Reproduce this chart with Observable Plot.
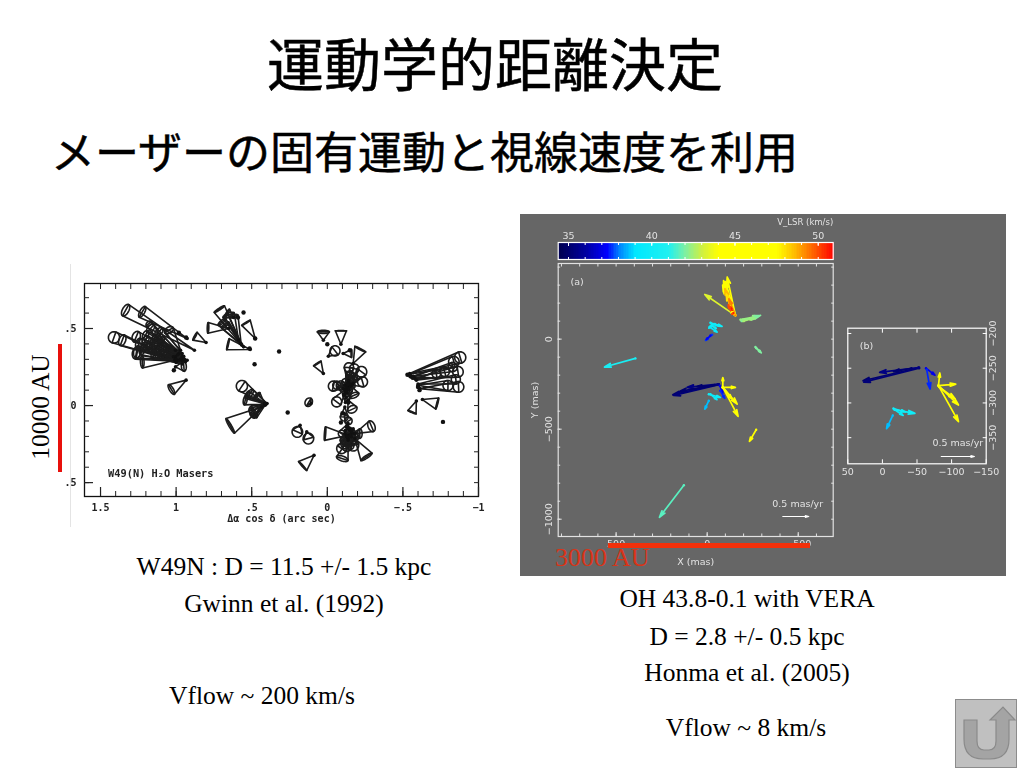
<!DOCTYPE html>
<html lang="ja"><head><meta charset="utf-8">
<script src="https://cdn.jsdelivr.net/npm/d3@7"></script>
<script src="https://cdn.jsdelivr.net/npm/@observablehq/plot@0.6"></script>
<style>
html,body{margin:0;padding:0;background:#fff}
#slide{position:relative;width:1024px;height:768px;overflow:hidden;background:#fff}
.t{position:absolute;white-space:nowrap;color:#000;line-height:1}
.jp{font-family:"Noto Sans CJK JP";font-weight:400;-webkit-text-stroke:.5px #000}
.s{font-family:"Liberation Serif";font-size:25.5px;transform:translate(-50%,-50%)}
.abs{position:absolute}
.abs svg{display:block;overflow:visible}
</style></head><body><div id="slide"></div>
<script>
// ---------- text ----------
const title = "運動学的距離決定";
const subtitle = "メーザーの固有運動と視線速度を利用";
const captions = [
  ["W49N : D = 11.5 +/- 1.5 kpc", 284, 567],
  ["Gwinn et al. (1992)", 284, 604],
  ["Vflow ~ 200 km/s", 262, 696],
  ["OH 43.8-0.1 with VERA", 747, 599],
  ["D = 2.8 +/- 0.5 kpc", 747, 637],
  ["Honma et al. (2005)", 747, 673],
  ["Vflow ~ 8 km/s", 746, 728]
];
// ---------- W49(N) masers: [x, y, endX, endY, radius, squash] in arc sec ----------
const westCluster = [
 [.879,.359,1.334,.619,.042,.5],[.927,.435,1.224,.608,.04,.4],[1.004,.294,1.411,.442,.037,1],
 [.993,.284,1.356,.424,.037,.6],[.96,.316,1.264,.446,.037,.7],[.96,.294,1.257,.348,.04,.6],
 [.938,.284,1.264,.338,.037,.7],[1.009,.294,1.224,.284,.04,.3],[1.004,.251,.949,.255,.033,.5],
 [.982,.338,1.169,.5,.033,.6],[.971,.359,1.048,.489,.033,.6],[.96,.338,1.114,.478,.033,.6],
 [.938,.294,1.202,.424,.033,.6],[.982,.294,1.18,.381,.026,.6],[1.004,.316,1.213,.381,.031,.6],
 [1.018,.316,1.18,.532,.022,.6],[.927,.294,1.158,.413,.026,.6],[1.004,.359,1.202,.457,.031,.6],
 [.949,.305,1.246,.403,.035,.6],[1.0,.28,1.224,.36,.031,.6],[.934,.165,1.031,.104,.037,.35],
 [.802,.409,.875,.45,.029,.15],[.97,.3,1.13,.36,.03,.6],[.95,.32,1.1,.42,.03,.6],[.99,.33,1.14,.44,.028,.6],
 [.96,.27,1.1,.33,.03,.6],[1.0,.3,1.15,.33,.03,.5]
];
const northCluster = [
 [.565,.392,.714,.626,.04,.15],[.653,.5,.789,.504,.035,.15],[.587,.424,.653,.587,.04,.3],
 [.576,.403,.697,.543,.033,.3],[.554,.381,.675,.522,.031,.3],[.51,.364,.657,.398,.037,.1],
 [.477,.435,.538,.537,.033,.1],[.62,.571,.664,.597,.033,.2],[.57,.4,.62,.58,.03,.3]
];
const middleCluster = [
 [.4,.013,.565,.126,.037,1],[.4,.013,.51,.078,.031,.5],[.411,.009,.543,.035,.031,.4],
 [.407,.009,.488,-.03,.031,1],[.407,.009,.488,-.048,.037,.5],[.411,.002,.466,.067,.026,.3],
 [.433,-.009,.642,-.132,.055,.15],[.415,.013,.495,-.064,.022,.5],[.41,.01,.53,.07,.026,.4]
];
const centreCluster = [
 [.026,.424,.026,.478,.04,.25],[-.09,.398,-.09,.485,.037,.03],[-.007,.32,-.051,.355,.033,1],
 [.026,.208,.066,.273,.029,.1],[-.105,.338,-.16,.338,.026,.1],[-.171,.273,-.218,.366,.04,.1],
 [-.138,.132,-.143,.247,.031,1],[-.149,.121,-.178,.24,.031,1],[-.171,.143,-.226,.219,.035,1],
 [-.16,.132,-.233,.154,.033,1],[-.105,.11,-.04,.126,.033,1],[-.116,.132,-.062,.132,.026,1],
 [-.127,.11,-.062,.024,.033,1],[-.149,.132,-.178,.067,.033,.5],[-.138,.035,-.165,-.024,.033,.7],
 [-.116,-.009,-.112,-.074,.026,1],[-.13,.12,-.17,.18,.03,1],[-.12,.09,-.15,.16,.028,1],
 [-.125,.05,-.14,.1,.026,1],[-.14,.16,-.15,.2,.026,1],[-.13,.13,-.15,.19,.028,1],[-.15,.14,-.17,.17,.026,1],
 [-.13,.08,-.12,.15,.025,1],[-.14,.1,-.16,.13,.024,1],[-.11,.07,-.09,.13,.03,1],[-.12,.02,-.13,.06,.026,1],
 [-.182,-.182,-.292,-.134,.037,.6],[-.138,-.193,.015,-.182,.044,.1],[-.182,-.214,-.259,-.333,.044,.2],
 [-.138,-.225,-.099,-.344,.04,.4],[-.138,-.214,-.095,-.279,.033,1],[-.16,-.203,-.171,-.258,.037,1],
 [-.16,-.182,-.215,-.182,.031,.5],[-.138,-.139,-.138,-.204,.031,1],[-.116,-.182,-.116,-.225,.031,1],
 [-.171,-.15,-.182,-.204,.026,1],[-.127,-.139,-.16,-.236,.026,1],[-.138,-.117,-.095,-.182,.022,1],
 [-.15,-.16,-.12,-.25,.03,1],[-.165,-.17,-.13,-.27,.028,1],[-.13,-.13,-.15,-.2,.03,1],[-.14,-.15,-.17,-.22,.028,1],
 [-.12,-.16,-.14,-.24,.028,1],[-.15,-.19,-.13,-.23,.03,1],[-.13,-.2,-.15,-.26,.026,1],[-.11,-.05,-.14,-.1,.024,1]
];
const looseMasers = [
 [.108,.013,.123,.022,.029,.8],[.18,-.128,.198,-.171,.035,1],[.136,-.171,.125,-.214,.035,1],
 [.088,-.323,.163,-.392,.04,.1]
];
const eastCluster = [
 [-.545,.208,-.879,.312,.037,1],[-.545,.203,-.837,.284,.035,1],[-.556,.186,-.721,.208,.029,1],
 [-.578,.175,-.864,.219,.035,1],[-.589,.165,-.776,.219,.031,1],[-.611,.11,-.868,.121,.035,1],
 [-.6,.132,-.798,.13,.033,1],[-.589,.03,-.56,-.043,.029,.1],[-.629,.039,-.727,.013,.037,.1],
 [-.57,.19,-.83,.25,.03,1],[-.6,.14,-.85,.17,.03,1]
];
const loneDotsX = [.982,.934,1.015,.554,.591,.481,.319,.514,.477,0,-.149,.262,-.765,-.53,-.55,-.565,-.61,-.6,-.135,-.14,-.09,-.1,-.12,-.11,-.15,-.13];
const loneDotsY = [.472,.442,.229,.604,.571,.268,.351,.37,.435,.398,.359,-.045,-.106,.2,.19,.18,.1,.12,.14,.02,-.11,-.05,.09,.07,-.15,-.2];
const w49TicksX = [1.5,1,.5,0,-.5,-1];
const w49TickLabelsX = ["1.5","1",".5","0","−.5","−1"];
const w49TicksY = [.5,0,-.5];
const w49TickLabelsY = [".5","0",".5"];
// ---------- OH 43.8-0.1 proper motions: [x1, y1, x2, y2, V_LSR] ----------
const panelAArrows = [
 [-132,147,13,248,43.3],[-155,132,-110,344,46],[-137,150,-91,289,47],[-155,132,-100,320,45],[-150,135,-85,300,46],
 [-140,150,-90,325,45.5],[-145,142,-97,280,48.6],[-145,140,-105,250,48],
 [-155,132,-119,224,49.3],[-143,144,-128,178,50.6],[-137,140,-115,190,50],
 [-183,108,-284,128,42.3],[-190,100,-293,132,42],[-200,100,-250,116,42.5],[-195,108,-265,115,42.3],
 [-265,-44,-297,-76,42],[-270,-50,-290,-70,42],
 [-18,91,-82,71,40],[-27,80,-60,76,40],[-42,85,-9,61,39.8],[-13,67,-55,39,39.5],[-20,75,-50,60,40],
 [-27,24,9,-7,37.6],[-18,20,5,-2,37.2],
 [394,-107,564,-155,40.5],
 [-64,-250,189,-309,35],[-64,-253,183,-313,35.2],[-60,-250,110,-268,35.4],[-27,-259,56,-263,35],
 [-40,-255,150,-290,35],
 [-69,-259,-86,-300,37],[-72,-287,-97,-329,37.5],
 [-86,-268,-86,-213,45],[-86,-268,-155,-268,45.5],[-86,-268,-165,-361,45],[-86,-268,-170,-429,45],[-86,-268,-136,-333,44.5],
 [-9,-306,-73,-324,40],[-18,-306,-54,-336,39.7],[-9,-342,13,-389,38.6],
 [-269,-503,-232,-568,45],
 [128,-811,262,-989,41.6]
];
const panelBArrows = [
 [-53,-249,28,-268,35],[-53,-250,27,-270,35.2],[-52,-249,4,-256,35.4],[-42,-250,-16,-255,35],
 [-63,-250,-76,-260,37],[-64,-252,-69,-280,37.5],
 [-81,-275,-83,-257,45],[-81,-275,-106,-273,45.5],[-81,-275,-110,-303,45],[-81,-275,-110,-327,45],[-82,-277,-105,-294,44.5],
 [-18,-310,-47,-315,40],[-17,-309,-30,-318,39.7],[-16,-308,-33,-313,40],[-15,-318,-6,-337,38.6]
];
const velocityStops = [34.4,36,37.3,38,39,41,42,43,44,47.5,48.5,49.5,50.5,50.9];
const velocityColors = ["#000050","#0000a0","#0000ff","#0080ff","#00e8ff","#20f0f0","#80f0a0","#d0f040","#ffff00","#ffff00","#ffc000","#ff7000","#ff2000","#ff0000"];
const colorbarTicks = [35,40,45,50];
const minusFormat = d => d < 0 ? "−" + (-d) : String(d);

const slide = document.getElementById("slide");
function text(str, cls, css){const d=document.createElement("div");d.className=cls;d.textContent=str;Object.assign(d.style,css);slide.appendChild(d);return d;}
function place(svg,left,top,extra){const d=document.createElement("div");d.className="abs";d.style.left=left+"px";d.style.top=top+"px";if(extra)Object.assign(d.style,extra);d.appendChild(svg);slide.appendChild(d);}

text(title,"t jp",{left:"495px",top:"61px",fontSize:"57px",transform:"translate(-50%,-50%)"});
text(subtitle,"t jp",{left:"51px",top:"150px",fontSize:"44px",transform:"translateY(-50%)"});
captions.forEach(([s,x,y])=>text(s,"t s",{left:x+"px",top:y+"px"}));

// ---------- left chart ----------
const masers = [...westCluster,...northCluster,...middleCluster,...centreCluster,...looseMasers,...eastCluster];
const outlines = [];
masers.forEach(([x,y,ex,ey,r,s],i)=>{
  const dx=ex-x,dy=ey-y,L=Math.hypot(dx,dy),ux=dx/L,uy=dy/L,vx=-uy,vy=ux;
  outlines.push({id:"t"+i,x,y},{id:"t"+i,x:ex+vx*r,y:ey+vy*r},{id:"t"+i,x:ex-vx*r,y:ey-vy*r});
  for(let k=0;k<24;k++){const a=k/24*2*Math.PI,c=Math.cos(a)*r,d=Math.sin(a)*r*s;
    outlines.push({id:"e"+i,x:ex+vx*c+ux*d,y:ey+vy*c+uy*d});}
});
const w49Font={fontFamily:"'DejaVu Sans Mono'",fontSize:"10px",fontWeight:"bold",color:"#222"};
const w49MinorX=d3.range(-1,1.6,.1).map(v=>+v.toFixed(1));
const w49MinorY=d3.range(-.5,.8,.1).map(v=>+v.toFixed(1));
place(Plot.plot({
  width:430,height:270,marginLeft:24,marginRight:12,marginTop:23,marginBottom:34,
  style:{...w49Font,background:"transparent"},
  x:{domain:[1.606,-1],label:null},y:{domain:[-.59,.792],label:null},
  marks:[
    Plot.frame({stroke:"#111",strokeWidth:1.3}),
    Plot.axisX({ticks:w49TicksX,tickSize:-9,tickPadding:16,tickFormat:d=>w49TickLabelsX[w49TicksX.indexOf(d)],strokeWidth:1.2,label:"Δα cos δ (arc sec)",labelAnchor:"center",labelArrow:false,labelOffset:25}),
    Plot.axisX({ticks:w49MinorX,tickSize:-5,tickFormat:()=>"",strokeWidth:1,label:null}),
    Plot.axisX({anchor:"top",ticks:w49MinorX,tickSize:-5,tickFormat:()=>"",strokeWidth:1,label:null}),
    Plot.axisY({ticks:w49TicksY,tickSize:-9,tickPadding:17,tickFormat:d=>w49TickLabelsY[w49TicksY.indexOf(d)],strokeWidth:1.2,label:null}),
    Plot.axisY({ticks:w49MinorY,tickSize:-5,tickFormat:()=>"",strokeWidth:1,label:null}),
    Plot.axisY({anchor:"right",ticks:w49MinorY,tickSize:-5,tickFormat:()=>"",strokeWidth:1,label:null}),
    Plot.line(outlines,{x:"x",y:"y",z:"id",curve:"linear-closed",stroke:"#1c1c1c",strokeWidth:1.6,fill:"none"}),
    Plot.dot(masers,{x:d=>d[0],y:d=>d[1],r:1.8,fill:"#111"}),
    Plot.dot(loneDotsX.map((x,i)=>[x,loneDotsY[i]]),{x:d=>d[0],y:d=>d[1],r:2.2,fill:"#111"}),
    Plot.text(["W49(N) H₂O Masers"],{x:[1.45],y:[-.44],textAnchor:"start",fontWeight:"bold",fontSize:10.3})
  ]
}),60,260,{filter:"blur(.35px)"});

// ---------- right gray panel ----------
const gray=document.createElement("div");
Object.assign(gray.style,{position:"absolute",left:"520px",top:"214px",width:"486px",height:"362px",background:"#666"});
slide.appendChild(gray);
const light="#e2e2e2";
const panelStyle={fontFamily:"'DejaVu Sans'",fontSize:"9.5px",color:light,background:"transparent"};
const colorScale={type:"linear",domain:velocityStops,range:velocityColors};

// colour bar
const strip=d3.range(34.38,50.9,.1);
place(Plot.plot({
  width:486,height:50,marginLeft:37.7,marginRight:173.3,marginTop:28,marginBottom:5,
  style:panelStyle,
  x:{domain:[34.38,50.9],label:null},y:{axis:null,domain:[0,1]},color:colorScale,
  marks:[
    Plot.rectX(strip,{x1:d=>d,x2:d=>d+.12,y1:0,y2:1,fill:d=>d,shapeRendering:"crispEdges"}),
    Plot.axisX({anchor:"top",ticks:colorbarTicks,tickSize:-3,tickPadding:7,stroke:"white",label:null}),
    Plot.axisX({anchor:"top",ticks:d3.range(35,51),tickSize:-2,tickFormat:()=>"",stroke:"white",label:null}),
    Plot.axisX({anchor:"bottom",ticks:d3.range(35,51),tickSize:-2,tickFormat:()=>"",stroke:"white",label:null}),
    Plot.frame({stroke:"white",strokeWidth:1.2}),
    Plot.text(["V_LSR (km/s)"],{x:[50.9],y:[1],dy:-20,textAnchor:"end",fill:light,fontSize:8.5})
  ]
}),520,214,{filter:"blur(.25px)"});

const arrowMark=(rows,len,w)=>[
  Plot.arrow(rows,{x1:d=>d[0],y1:d=>d[1],x2:d=>d[2],y2:d=>d[3],stroke:d=>d[4],strokeWidth:w,headLength:len,headAngle:32}),
  Plot.dot(rows,{x:d=>d[0],y:d=>d[1],r:1.2,fill:d=>d[4]})
];
// panel (a)
const aMinorX=d3.range(-600,801,100), aMinorY=d3.range(-1000,401,100);
place(Plot.plot({
  width:486,height:362,marginLeft:37.7,marginRight:173.3,marginTop:49,marginBottom:40,
  style:panelStyle,
  x:{domain:[818,-692],label:null},y:{domain:[-1096,420],label:null},color:colorScale,
  marks:[
    Plot.axisX({ticks:[500,0,-500],tickSize:-4,tickPadding:8,tickFormat:minusFormat,stroke:light,label:"X (mas)",labelAnchor:"center",labelArrow:false,labelOffset:28}),
    Plot.axisX({ticks:aMinorX,tickSize:-2.5,tickFormat:()=>"",stroke:light,label:null}),
    Plot.axisX({anchor:"top",ticks:aMinorX,tickSize:-2.5,tickFormat:()=>"",stroke:light,label:null}),
    Plot.axisY({ticks:[0,-500,-1000],tickSize:-4,tickPadding:10,tickRotate:-90,textAnchor:"middle",tickFormat:minusFormat,stroke:light,label:"Y (mas)",labelAnchor:"center",labelArrow:false,labelOffset:27}),
    Plot.axisY({ticks:aMinorY,tickSize:-2.5,tickFormat:()=>"",stroke:light,label:null}),
    Plot.axisY({anchor:"right",ticks:aMinorY,tickSize:-2.5,tickFormat:()=>"",stroke:light,label:null}),
    Plot.frame({stroke:light,strokeWidth:1.2}),
    ...arrowMark(panelAArrows,6,1.7),
    Plot.arrow([0],{x1:[-415],y1:[-985],x2:[-558],y2:[-985],stroke:"white",strokeWidth:1.1,headLength:5,headAngle:30}),
    Plot.text(["0.5 mas/yr"],{x:[-497],y:[-914],fill:light,fontSize:9.5}),
    Plot.text(["(a)"],{x:[714],y:[315],fill:light,fontSize:9.5})
  ]
}),520,214,{filter:"blur(.35px)"});
// panel (b)
place(Plot.plot({
  width:486,height:362,marginLeft:327.3,marginRight:20.3,marginTop:113.7,marginBottom:112.7,
  style:panelStyle,
  x:{domain:[50,-150],label:null},y:{domain:[-387.6,-192.4],label:null},color:colorScale,
  marks:[
    Plot.axisX({ticks:[50,0,-50,-100,-150],tickSize:-4,tickPadding:8,tickFormat:minusFormat,stroke:"white",label:null}),
    Plot.axisX({anchor:"top",ticks:[0,-50,-100],tickSize:-4,tickFormat:()=>"",stroke:"white",label:null}),
    Plot.axisY({anchor:"right",ticks:[-200,-250,-300,-350],tickSize:-4,tickPadding:14,tickRotate:-90,textAnchor:"middle",tickFormat:minusFormat,stroke:"white",label:null}),
    Plot.axisY({ticks:[-200,-250,-300,-350],tickSize:-4,tickFormat:()=>"",stroke:"white",label:null}),
    Plot.frame({stroke:"white",strokeWidth:1.2}),
    ...arrowMark(panelBArrows,6,1.7),
    Plot.arrow([0],{x1:[-85],y1:[-377],x2:[-133],y2:[-377],stroke:"white",strokeWidth:1.1,headLength:5,headAngle:30}),
    Plot.text(["0.5 mas/yr"],{x:[-109],y:[-358],fill:light,fontSize:9.5}),
    Plot.text(["(b)"],{x:[23],y:[-218],fill:light,fontSize:9.5})
  ]
}),520,214,{filter:"blur(.35px)"});

// ---------- scale bars, annotations, button ----------
const box=(l,t,w,h,bg)=>{const d=document.createElement("div");Object.assign(d.style,{position:"absolute",left:l+"px",top:t+"px",width:w+"px",height:h+"px",background:bg});slide.appendChild(d);};
box(70,264,1,263,"#e4e4e4");
box(58,344,4,128,"#e8100c");
box(608,543,202,4.5,"#f2300a");
text("10000 AU","t",{fontFamily:"'Liberation Serif'",fontSize:"25.5px",left:"41px",top:"407px",transform:"translate(-50%,-50%) rotate(-90deg)"});
text("3000 AU","t",{fontFamily:"'Liberation Serif'",fontSize:"26px",left:"555px",top:"558px",color:"#d83418",transform:"translateY(-50%)"});
const btn=document.createElement("div");
Object.assign(btn.style,{position:"absolute",left:"955px",top:"699px"});
btn.innerHTML='<svg width="62" height="69" viewBox="0 0 62 69"><rect x=".5" y=".5" width="61" height="68" fill="#c0c0c0" stroke="#8c8c8c"/><path d="M9 21H22V42Q22 51 29 51H34Q41 51 41 42V21H35L48 8 60 21H54V40Q54 60 35 60H28Q9 60 9 40Z" fill="#a4a4a4" stroke="#8a8a8a" stroke-width="1.2"/></svg>';
slide.appendChild(btn);
</script></body></html>
